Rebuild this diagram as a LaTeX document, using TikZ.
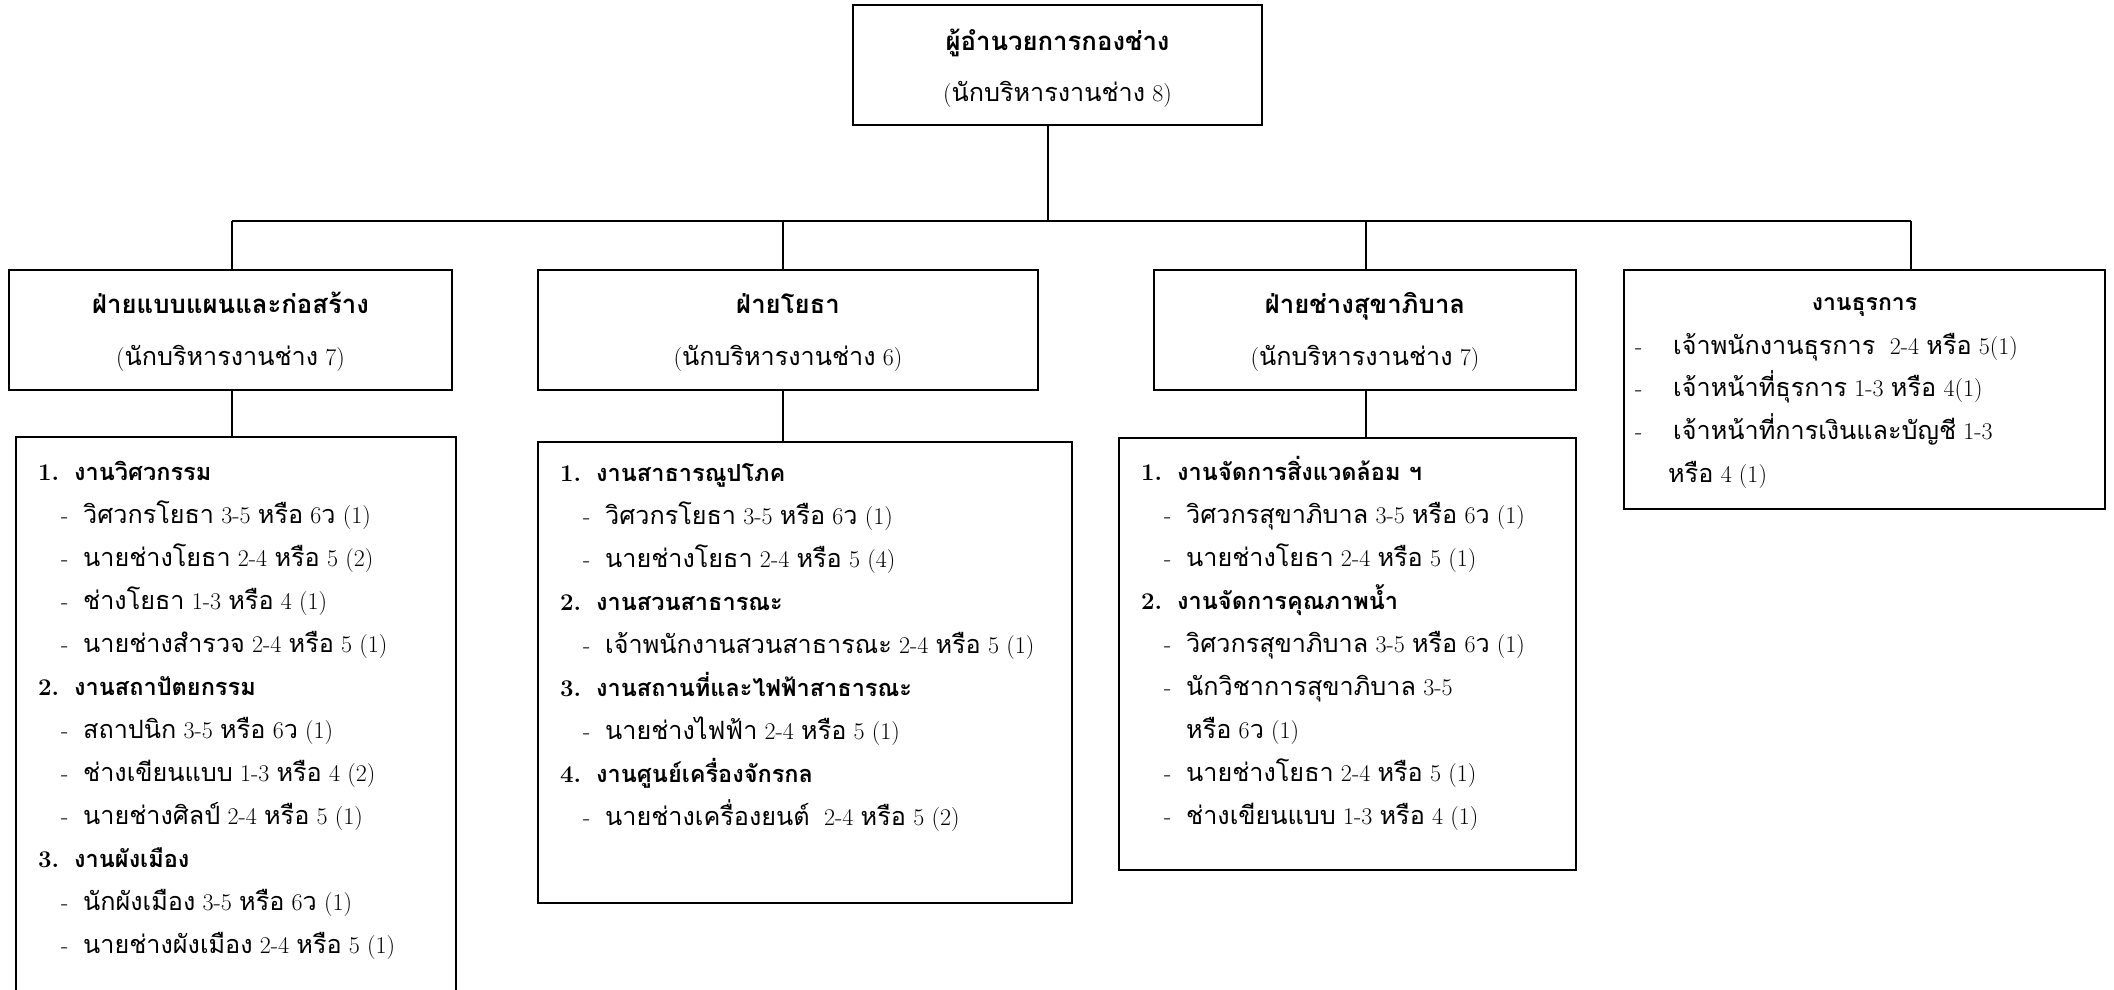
\documentclass[tikz,border=0pt]{standalone}
\usepackage{fontspec}
\newfontfamily\thaifont[Script=Thai,Scale=1.05]{Loma}
\XeTeXinterchartokenstate=1
\newXeTeXintercharclass\thaiclass
\makeatletter
\@tempcnta="0E00
\loop\ifnum\@tempcnta<"0E80
  \XeTeXcharclass\@tempcnta=\thaiclass
  \advance\@tempcnta by 1
\repeat
\makeatother
\XeTeXinterchartoks 0 \thaiclass = {\thaifont}
\XeTeXinterchartoks 4095 \thaiclass = {\thaifont}
\XeTeXinterchartoks \thaiclass 0 = {\rmfamily}
\XeTeXinterchartoks \thaiclass 4095 = {\rmfamily}
\newcommand\lstack[2]{\vtop{\baselineskip=#1\lineskiplimit=-\maxdimen\lineskip=0pt\halign{##\hfil\cr#2\crcr}}}
\newcommand\cstack[2]{\vtop{\baselineskip=#1\lineskiplimit=-\maxdimen\lineskip=0pt\halign{\hfil##\hfil\cr#2\crcr}}}
\newcommand\hd[2]{\makebox[36pt][l]{\bfseries #1}{\bfseries\fontsize{22.4}{24}\selectfont #2}}
\newcommand\sub[1]{\hspace*{23pt}\makebox[22pt][l]{-}#1}
\newcommand\cont[1]{\hspace*{45pt}#1}
\newcommand\btitle[1]{{\bfseries\fontsize{24.5}{28}\selectfont #1}}
\begin{document}
\begin{tikzpicture}[x=1pt,y=-1pt,
  box/.style={draw, line width=1.8pt, inner sep=0pt},
  conn/.style={line width=1.8pt},
  txt/.style={inner sep=0pt, font=\fontsize{24}{30}\selectfont},
  head/.style={inner sep=0pt, anchor=base, font=\fontsize{24}{28}\selectfont}]
\useasboundingbox (0,0) rectangle (2114,990);
% top box
\node[box, minimum width=409pt, minimum height=120pt] (top) at (1057.5,65) {};
\node[head] (topT) at (1057.5,51) {\cstack{51pt}{\btitle{ผู้อำนวยการกองช่าง}\cr (นักบริหารงานช่าง 8)}};
% bus
\coordinate (bus) at (1048,221);
\coordinate (jA) at (232,221);
\coordinate (jB) at (783,221);
\coordinate (jC) at (1366,221);
\coordinate (jD) at (1911,221);
% row 2 boxes
\node[box, minimum width=443pt, minimum height=120pt] (A) at (230.5,330) {};
\node[box, minimum width=500pt, minimum height=120pt] (B) at (788,330) {};
\node[box, minimum width=422pt, minimum height=120pt] (C) at (1365,330) {};
\node[box, minimum width=481pt, minimum height=239pt] (D) at (1864.5,389.5) {};
\node[head] (AT) at (230.5,313) {\cstack{52pt}{\btitle{ฝ่ายแบบแผนและก่อสร้าง}\cr (นักบริหารงานช่าง 7)}};
\node[head] (BT) at (788,313) {\cstack{52pt}{\btitle{ฝ่ายโยธา}\cr (นักบริหารงานช่าง 6)}};
\node[head] (CT) at (1365,313) {\cstack{52pt}{\btitle{ฝ่ายช่างสุขาภิบาล}\cr (นักบริหารงานช่าง 7)}};
\node[txt, anchor=base] (DH) at (1864.5,310) {\bfseries\fontsize{21.9}{24}\selectfont งานธุรการ};
\node[txt, anchor=base west] (DT) at (1635,354) {\lstack{42.7pt}{%
\makebox[38pt][l]{-}เจ้าพนักงานธุรการ\ \ 2-4 หรือ 5(1)\cr
\makebox[38pt][l]{-}เจ้าหน้าที่ธุรการ 1-3 หรือ 4(1)\cr
\makebox[38pt][l]{-}เจ้าหน้าที่การเงินและบัญชี 1-3\cr
\hspace*{33pt}หรือ 4 (1)}};
% detail boxes
\node[inner sep=0pt, minimum width=440pt, minimum height=553pt] (dA) at (236,713.5) {};
\node[box, minimum width=534pt, minimum height=461pt] (dB) at (805,672.5) {};
\node[box, minimum width=457pt, minimum height=432pt] (dC) at (1347.5,654) {};
\draw[conn] (dA.south west) -- (dA.north west) -- (dA.north east) -- (dA.south east);
\node[txt, anchor=base west] (dAT) at (38,480) {\lstack{43pt}{%
\hd{1.}{งานวิศวกรรม}\cr
\sub{วิศวกรโยธา 3-5 หรือ 6ว (1)}\cr
\sub{นายช่างโยธา 2-4 หรือ 5 (2)}\cr
\sub{ช่างโยธา 1-3 หรือ 4 (1)}\cr
\sub{นายช่างสำรวจ 2-4 หรือ 5 (1)}\cr
\hd{2.}{งานสถาปัตยกรรม}\cr
\sub{สถาปนิก 3-5 หรือ 6ว (1)}\cr
\sub{ช่างเขียนแบบ 1-3 หรือ 4 (2)}\cr
\sub{นายช่างศิลป์ 2-4 หรือ 5 (1)}\cr
\hd{3.}{งานผังเมือง}\cr
\sub{นักผังเมือง 3-5 หรือ 6ว (1)}\cr
\sub{นายช่างผังเมือง 2-4 หรือ 5 (1)}}};
\node[txt, anchor=base west] (dBT) at (560,481) {\lstack{43.1pt}{%
\hd{1.}{งานสาธารณูปโภค}\cr
\sub{วิศวกรโยธา 3-5 หรือ 6ว (1)}\cr
\sub{นายช่างโยธา 2-4 หรือ 5 (4)}\cr
\hd{2.}{งานสวนสาธารณะ}\cr
\sub{เจ้าพนักงานสวนสาธารณะ 2-4 หรือ 5 (1)}\cr
\hd{3.}{งานสถานที่และไฟฟ้าสาธารณะ}\cr
\sub{นายช่างไฟฟ้า 2-4 หรือ 5 (1)}\cr
\hd{4.}{งานศูนย์เครื่องจักรกล}\cr
\sub{นายช่างเครื่องยนต์\ \ 2-4 หรือ 5 (2)}}};
\node[txt, anchor=base west] (dCT) at (1141,480) {\lstack{43.1pt}{%
\hd{1.}{งานจัดการสิ่งแวดล้อม ฯ}\cr
\sub{วิศวกรสุขาภิบาล 3-5 หรือ 6ว (1)}\cr
\sub{นายช่างโยธา 2-4 หรือ 5 (1)}\cr
\hd{2.}{งานจัดการคุณภาพน้ำ}\cr
\sub{วิศวกรสุขาภิบาล 3-5 หรือ 6ว (1)}\cr
\sub{นักวิชาการสุขาภิบาล 3-5}\cr
\cont{หรือ 6ว (1)}\cr
\sub{นายช่างโยธา 2-4 หรือ 5 (1)}\cr
\sub{ช่างเขียนแบบ 1-3 หรือ 4 (1)}}};
% connectors
\draw[conn] (top.south -| bus) -- (bus);
\draw[conn] (jA) -- (jD);
\draw[conn] (jA) -- (jA |- A.north);
\draw[conn] (jB) -- (jB |- B.north);
\draw[conn] (jC) -- (jC |- C.north);
\draw[conn] (jD) -- (jD |- D.north);
\draw[conn] (A.south -| jA) -- (dA.north -| jA);
\draw[conn] (B.south -| jB) -- (dB.north -| jB);
\draw[conn] (C.south -| jC) -- (dC.north -| jC);
\end{tikzpicture}
\end{document}
